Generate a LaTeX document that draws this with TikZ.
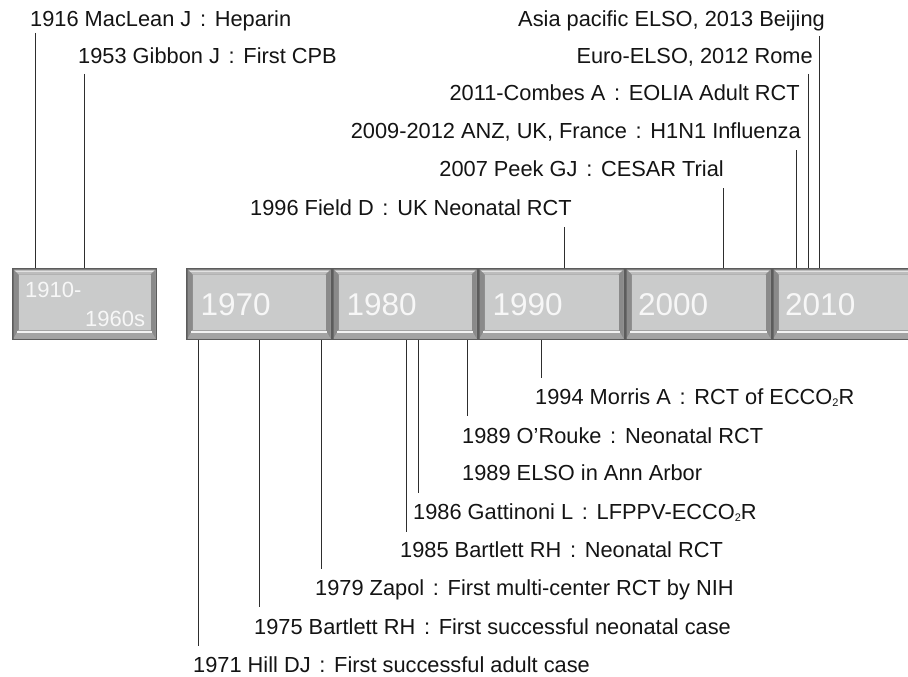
\documentclass[tikz,border=0pt]{standalone}
\usepackage{fontspec}
\setmainfont{Liberation Sans}
\newcommand{\fcol}{\hspace{0.4em}:\hspace{0.4em}}
\newcommand{\subtwo}{\raisebox{-1.5pt}{\fontsize{11}{11}\selectfont 2}}
\definecolor{boxdark}{HTML}{5C5C5C}
\definecolor{boxmid}{HTML}{9E9E9E}
\definecolor{boxtop}{HTML}{BDBDBD}
\definecolor{boxside}{HTML}{8A8A8A}
\definecolor{boxbot}{HTML}{A3A3A3}
\definecolor{boxface}{HTML}{CACBCB}
\definecolor{boxhi}{HTML}{F2F2F2}
\definecolor{yearcol}{HTML}{F7F7F7}
\definecolor{lblcol}{HTML}{141414}
\definecolor{linecol}{HTML}{2E2E2E}
\tikzset{
  lbl/.style={font=\fontsize{21.8}{24}\selectfont, text=lblcol, inner sep=0pt},
  tick/.style={draw=linecol, line width=0.9pt},
  yeartxt/.style={font=\fontsize{31.5}{34}\selectfont, text=yearcol, inner sep=0pt, anchor=base west},
  smallyear/.style={font=\fontsize{22}{24}\selectfont, text=yearcol, inner sep=0pt, anchor=base west},
  boxarea/.style={inner sep=0pt, minimum height=72pt, anchor=north west},
}
\newcommand{\bevelbox}[3]{%
  \fill[boxdark] (#1,268) rectangle (#2,340);
  \fill[boxmid] ({#1+1.5},269.5) rectangle ({#2-1.5},338.5);
  \fill[boxtop] ({#1+1.5},269.5) -- ({#2-1.5},269.5) -- ({#2-6.5},274.5) -- ({#1+6.5},274.5) -- cycle;
  \fill[boxhi!70!boxtop] ({#1+2.5},270.5) rectangle ({#2-2.5},271.8);
  \fill[boxside] ({#1+1.5},269.5) -- ({#1+6.5},274.5) -- ({#1+6.5},330) -- ({#1+1.5},338.5) -- cycle;
  \fill[boxside] ({#2-1.5},269.5) -- ({#2-6.5},274.5) -- ({#2-6.5},330) -- ({#2-1.5},338.5) -- cycle;
  \fill[boxbot] ({#1+1.5},338.5) -- ({#1+6.5},330) -- ({#2-6.5},330) -- ({#2-1.5},338.5) -- cycle;
  \fill[boxhi] ({#1+5},330.5) rectangle ({#2-5},332.8);
  \fill[boxface] ({#1+6.5},274.5) rectangle ({#2-6.5},330);
  \node[boxarea, minimum width={#2-#1}] (#3) at (#1,268) {};
}
\begin{document}
\begin{tikzpicture}[x=1pt,y=-1pt]
\useasboundingbox (0,0) rectangle (908,677);
\clip (0,0) rectangle (908,677);
\fill[white] (0,0) rectangle (908,677);

% decade boxes
\bevelbox{12}{157}{b0}
\bevelbox{186}{332}{b1970}
\bevelbox{332}{478}{b1980}
\bevelbox{478}{625}{b1990}
\bevelbox{625}{772}{b2000}
\bevelbox{772}{919}{b2010}

\node[smallyear] (y0a) at (25,297) {1910-};
\node[smallyear] (y0b) at (85,326.5) {1960s};
\node[yeartxt] (y1970) at (200.5,315.5) {1970};
\node[yeartxt] (y1980) at (346.5,315.5) {1980};
\node[yeartxt] (y1990) at (492.5,315.5) {1990};
\node[yeartxt] (y2000) at (638,315.5) {2000};
\node[yeartxt] (y2010) at (785,315.5) {2010};

% top labels
\node[lbl, anchor=base west] (t1916) at (30,27) {1916 MacLean J\fcol Heparin};
\node[lbl, anchor=base west] (t1953) at (78,63.5) {1953 Gibbon J\fcol First CPB};
\node[lbl, anchor=base east] (tasia) at (825,27) {Asia pacific ELSO, 2013 Beijing};
\node[lbl, anchor=base east] (teuro) at (813,63.5) {Euro-ELSO, 2012 Rome};
\node[lbl, anchor=base east] (tcombes) at (800,100.5) {2011-Combes A\fcol EOLIA Adult RCT};
\node[lbl, anchor=base east] (th1n1) at (801,138) {2009-2012 ANZ, UK, France\fcol H1N1 Influenza};
\node[lbl, anchor=base east] (tpeek) at (724,176.5) {2007 Peek GJ\fcol CESAR Trial};
\node[lbl, anchor=base west] (tfield) at (250,215.5) {1996 Field D\fcol UK Neonatal RCT};

% bottom labels
\node[lbl, anchor=base west] (t1994) at (535,404.5) {1994 Morris A\fcol RCT of ECCO\subtwo R};
\node[lbl, anchor=base west] (t1989a) at (462,443.5) {1989 O’Rouke\fcol Neonatal RCT};
\node[lbl, anchor=base west] (t1989b) at (462,480.5) {1989 ELSO in Ann Arbor};
\node[lbl, anchor=base west] (t1986) at (413,519.5) {1986 Gattinoni L\fcol LFPPV-ECCO\subtwo R};
\node[lbl, anchor=base west] (t1985) at (400,557.5) {1985 Bartlett RH\fcol Neonatal RCT};
\node[lbl, anchor=base west] (t1979) at (315,595.5) {1979 Zapol\fcol First multi-center RCT by NIH};
\node[lbl, anchor=base west] (t1975) at (254,634.5) {1975 Bartlett RH\fcol First successful neonatal case};
\node[lbl, anchor=base west] (t1971) at (193,672.5) {1971 Hill DJ\fcol First successful adult case};

% connector ends
\coordinate (e1916) at (35,33);
\coordinate (e1953) at (84,74);
\coordinate (efield) at (564,227);
\coordinate (epeek) at (723,188);
\coordinate (eh1n1) at (796,150);
\coordinate (eeuro) at (808,74);
\coordinate (easia) at (819,36);
\coordinate (e1971) at (198,646);
\coordinate (e1975) at (259,607);
\coordinate (e1979) at (321,569);
\coordinate (e1985) at (406,532);
\coordinate (e1986) at (418,493);
\coordinate (e1989) at (467,416);
\coordinate (e1994) at (541,378);

% connectors
\draw[tick] (e1916) -- (e1916 |- b0.north);
\draw[tick] (e1953) -- (e1953 |- b0.north);
\draw[tick] (efield) -- (efield |- b1990.north);
\draw[tick] (epeek) -- (epeek |- b2000.north);
\draw[tick] (eh1n1) -- (eh1n1 |- b2010.north);
\draw[tick] (eeuro) -- (eeuro |- b2010.north);
\draw[tick] (easia) -- (easia |- b2010.north);
\draw[tick] (b1970.south -| e1971) -- (e1971);
\draw[tick] (b1970.south -| e1975) -- (e1975);
\draw[tick] (b1970.south -| e1979) -- (e1979);
\draw[tick] (b1980.south -| e1985) -- (e1985);
\draw[tick] (b1980.south -| e1986) -- (e1986);
\draw[tick] (b1980.south -| e1989) -- (e1989);
\draw[tick] (b1990.south -| e1994) -- (e1994);
\end{tikzpicture}
\end{document}
